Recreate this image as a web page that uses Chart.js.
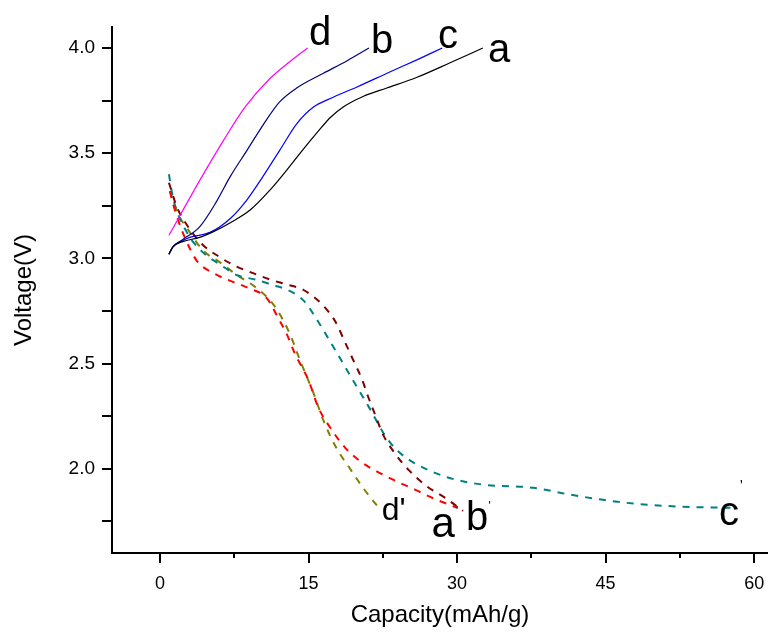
<!DOCTYPE html>
<html>
<head>
<meta charset="utf-8">
<script src="https://cdn.jsdelivr.net/npm/chart.js@4.4.0/dist/chart.umd.min.js"></script>
<style>
    html, body { margin: 0; padding: 0; background: #fff; }
    canvas { display: block; }
</style>
</head>
<body>
<canvas id="myChart1" width="768" height="635"></canvas>
<script>
// charge curves (solid)
const chargeAX = [0.9, 1.3, 2.3, 4.0, 5.5, 7.1, 9.1, 11.1, 12.8, 14.4, 15.9, 17.2, 18.5, 20.5, 22.9, 25.9, 29.3, 32.6];
const chargeAY = [3.02, 3.055, 3.08, 3.10, 3.13, 3.17, 3.23, 3.325, 3.42, 3.515, 3.60, 3.67, 3.72, 3.77, 3.81, 3.86, 3.93, 4.0];
const chargeBX = [0.9, 1.3, 2.3, 4.0, 5.7, 7.1, 8.8, 10.4, 12.1, 13.8, 16.5, 18.9, 21.1];
const chargeBY = [3.02, 3.055, 3.09, 3.15, 3.27, 3.39, 3.515, 3.634, 3.745, 3.81, 3.88, 3.94, 4.0];
const chargeCX = [0.9, 1.3, 2.3, 3.0, 5.1, 7.1, 8.8, 10.4, 12.1, 13.8, 15.5, 17.2, 19.9, 23.2, 26.0, 28.5];
const chargeCY = [3.02, 3.055, 3.085, 3.10, 3.125, 3.19, 3.28, 3.39, 3.515, 3.64, 3.72, 3.76, 3.815, 3.886, 3.945, 4.0];
const chargeDX = [0.9, 4.0, 6.4, 8.6, 11.1, 13.1, 14.9];
const chargeDY = [3.11, 3.37, 3.56, 3.72, 3.855, 3.935, 4.0];

// discharge curves (dashed)
const dischAX = [1.0, 1.2, 1.7, 2.5, 3.7, 5.4, 7.3, 8.9, 10.8, 11.9, 12.8, 13.6, 15.0, 16.0, 17.2, 18.7, 20.4, 22.2, 23.9, 25.8, 27.6, 30.0];
const dischAY = [3.32, 3.28, 3.20, 3.10, 2.99, 2.93, 2.89, 2.86, 2.81, 2.72, 2.64, 2.55, 2.42, 2.29, 2.195, 2.10, 2.03, 1.98, 1.94, 1.90, 1.86, 1.815];
const dischBX = [0.9, 1.7, 2.7, 4.2, 5.9, 7.8, 9.4, 11.1, 12.9, 14.5, 16.4, 17.7, 18.7, 19.5, 20.4, 21.0, 21.7, 22.5, 23.7, 25.1, 27.0, 28.8, 30.6];
const dischBY = [3.36, 3.245, 3.16, 3.07, 3.01, 2.96, 2.93, 2.90, 2.875, 2.85, 2.78, 2.70, 2.60, 2.518, 2.425, 2.345, 2.26, 2.165, 2.075, 1.995, 1.915, 1.862, 1.80];
const dischCX = [0.9, 1.3, 2.7, 4.3, 6.1, 7.8, 9.6, 11.3, 12.9, 14.6, 15.7, 17.5, 19.5, 21.2, 22.7, 23.9, 25.6, 29.0, 32.6, 37.7, 41.1, 44.4, 47.8, 52.8, 57.6];
const dischCY = [3.40, 3.29, 3.125, 3.03, 2.97, 2.92, 2.90, 2.875, 2.85, 2.795, 2.72, 2.58, 2.42, 2.285, 2.16, 2.09, 2.03, 1.96, 1.925, 1.91, 1.88, 1.855, 1.835, 1.82, 1.815];
const dischDX = [1.0, 1.8, 3.0, 4.3, 6.1, 7.8, 9.6, 11.3, 12.4, 13.3, 14.1, 15.5, 16.5, 17.8, 19.2, 20.5, 22.0];
const dischDY = [3.32, 3.215, 3.125, 3.04, 2.98, 2.92, 2.865, 2.79, 2.71, 2.62, 2.52, 2.36, 2.23, 2.10, 2.00, 1.91, 1.82];

// ticks
const xTicks = [0, 15, 30, 45, 60];
const xMinorTicks = [7.5, 22.5, 37.5, 52.5];
const yTicks = [2.0, 2.5, 3.0, 3.5, 4.0];
const yMinorTicks = [1.75, 2.25, 2.75, 3.25, 3.75];

// curve names, placed in data units
const curveLabels = [
    { text: 'd', x: 16.16, y: 4.014, size: 40 },
    { text: 'b', x: 22.42, y: 3.976, size: 40 },
    { text: 'c', x: 29.09, y: 4.0, size: 40 },
    { text: 'a', x: 34.24, y: 3.933, size: 40 },
    { text: "d'", x: 23.6, y: 1.755, size: 32 },
    { text: 'a', x: 28.59, y: 1.677, size: 42 },
    { text: "'", x: 30.0, y: 1.781, size: 12 },
    { text: 'b', x: 32.02, y: 1.710, size: 40 },
    { text: "'", x: 33.3, y: 1.805, size: 12 },
    { text: 'c', x: 57.47, y: 1.734, size: 40 },
    { text: "'", x: 58.7, y: 1.90, size: 14 }
];

const FONT = '"Liberation Sans", Arial, sans-serif';

function toPoints(xs, ys) {
    return xs.map((x, i) => ({ x: x, y: ys[i] }));
}

function line(data, color, dashed) {
    return {
        data: data,
        borderColor: color,
        backgroundColor: color,
        borderWidth: dashed ? 2 : 1.2,
        borderDash: dashed ? [7, 7] : [],
        showLine: true,
        pointRadius: 0,
        cubicInterpolationMode: 'monotone',
        fill: false
    };
}

const extrasPlugin = {
    id: 'extras',
    afterDraw(chart) {
        const ctx = chart.ctx;
        const xs = chart.scales.x;
        const ys = chart.scales.y;
        const area = chart.chartArea;
        ctx.save();
        ctx.strokeStyle = '#000';
        ctx.lineWidth = 2;
        xMinorTicks.forEach(v => {
            const px = Math.round(xs.getPixelForValue(v));
            ctx.beginPath();
            ctx.moveTo(px, area.bottom);
            ctx.lineTo(px, area.bottom + 5);
            ctx.stroke();
        });
        yMinorTicks.forEach(v => {
            const py = Math.round(ys.getPixelForValue(v));
            ctx.beginPath();
            ctx.moveTo(area.left - 10, py);
            ctx.lineTo(area.left, py);
            ctx.stroke();
        });
        ctx.fillStyle = '#000';
        ctx.textAlign = 'center';
        ctx.textBaseline = 'alphabetic';
        curveLabels.forEach(l => {
            ctx.font = l.size + 'px ' + FONT;
            ctx.fillText(l.text, xs.getPixelForValue(l.x), ys.getPixelForValue(l.y));
        });
        ctx.restore();
    }
};

const ctx = document.getElementById('myChart1').getContext('2d');
const chart1 = new Chart(ctx, {
    type: 'scatter',
    data: {
        datasets: [
            line(toPoints(chargeAX, chargeAY), '#000000', false),
            line(toPoints(chargeBX, chargeBY), '#000080', false),
            line(toPoints(chargeCX, chargeCY), '#0000FF', false),
            line(toPoints(chargeDX, chargeDY), '#FF00FF', false),
            line(toPoints(dischAX, dischAY), '#FF0000', true),
            line(toPoints(dischBX, dischBY), '#800000', true),
            line(toPoints(dischCX, dischCY), '#008080', true),
            line(toPoints(dischDX, dischDY), '#808000', true)
        ]
    },
    options: {
        responsive: false,
        animation: false,
        layout: { padding: { top: 27, right: 0, left: 0, bottom: 0 } },
        plugins: {
            legend: { display: false },
            tooltip: { enabled: false }
        },
        scales: {
            x: {
                type: 'linear',
                min: -4.85,
                max: 61.4,
                afterBuildTicks: scale => { scale.ticks = xTicks.map(v => ({ value: v })); },
                afterFit: scale => {
                    scale.height = 82;
                    scale.paddingLeft = 0;
                    scale.paddingRight = 0;
                },
                ticks: {
                    color: '#000',
                    padding: 10,
                    maxRotation: 0,
                    font: { family: FONT, size: 18 },
                    callback: v => String(v)
                },
                grid: {
                    drawOnChartArea: false,
                    tickLength: 10,
                    color: '#000',
                    lineWidth: 2
                },
                border: { display: true, color: '#000', width: 2 },
                title: {
                    display: true,
                    text: 'Capacity(mAh/g)',
                    color: '#000',
                    font: { family: FONT, size: 24 },
                    padding: { top: 0, bottom: 5 }
                }
            },
            y: {
                type: 'linear',
                min: 1.6,
                max: 4.1,
                afterBuildTicks: scale => { scale.ticks = yTicks.map(v => ({ value: v })); },
                afterFit: scale => { scale.width = 112; },
                ticks: {
                    color: '#000',
                    padding: 7,
                    font: { family: FONT, size: 19 },
                    callback: v => v.toFixed(1)
                },
                grid: {
                    drawOnChartArea: false,
                    tickLength: 10,
                    color: '#000',
                    lineWidth: 2
                },
                border: { display: true, color: '#000', width: 2 },
                title: {
                    display: true,
                    text: 'Voltage(V)',
                    color: '#000',
                    font: { family: FONT, size: 24 },
                    padding: { top: 10, bottom: 0 }
                }
            }
        }
    },
    plugins: [extrasPlugin]
});
</script>
</body>
</html>
